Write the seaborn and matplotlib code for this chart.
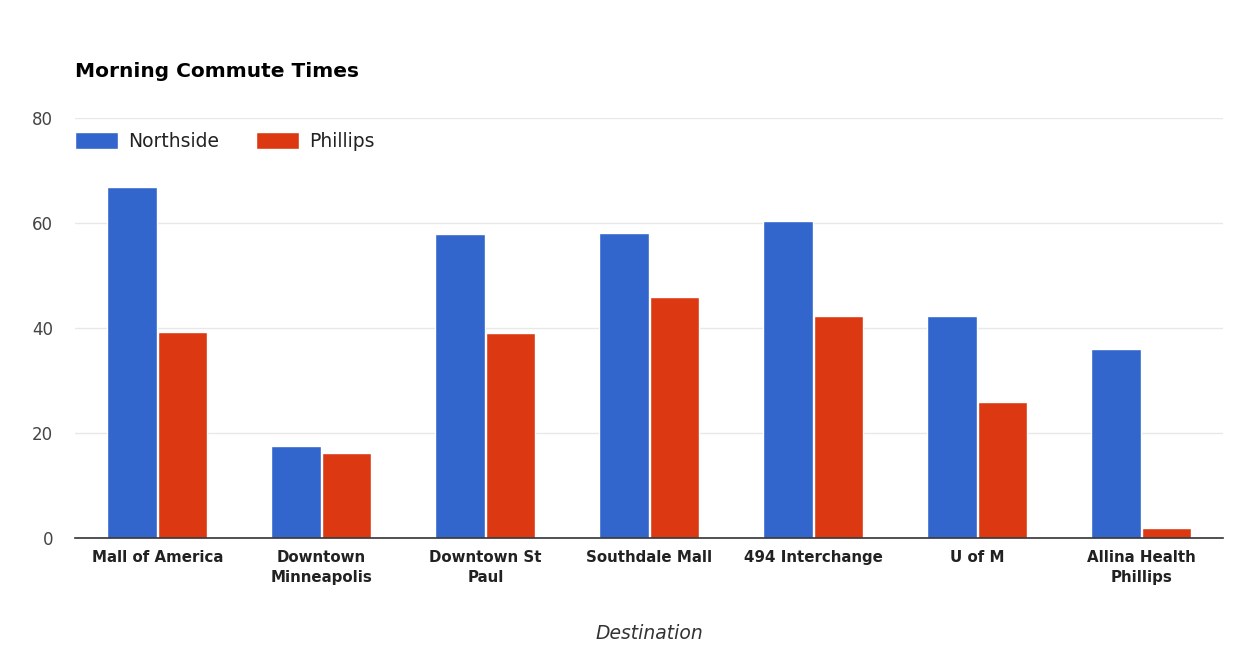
import matplotlib
matplotlib.use("Agg")
import matplotlib.pyplot as plt
import seaborn as sns
import pandas as pd

destinations = ["Mall of America", "Downtown\nMinneapolis", "Downtown St\nPaul",
                "Southdale Mall", "494 Interchange", "U of M", "Allina Health\nPhillips"]
northside = [66.8, 17.6, 57.9, 58.1, 60.4, 42.3, 36.0]
phillips = [39.3, 16.2, 39.0, 45.9, 42.3, 25.9, 1.8]
series_names = ["Northside", "Phillips"]
yticks = [0, 20, 40, 60, 80]

df = pd.DataFrame({
    "Destination": destinations * 2,
    "Time": northside + phillips,
    "Series": [series_names[0]] * len(destinations) + [series_names[1]] * len(destinations),
})

sns.set_theme(style="white")
plt.rcParams["font.family"] = ["DejaVu Sans"]

fig = plt.figure(figsize=(12.56, 6.45), dpi=100)
ax = fig.add_axes([0.06, 0.166, 0.914, 0.651])

sns.barplot(data=df, x="Destination", y="Time", hue="Series",
            palette=["#3366CC", "#DC3912"], width=0.62, gap=0.03,
            saturation=1, ax=ax, legend=True)

ax.set_ylim(0, 80)
ax.set_yticks(yticks)
ax.set_yticklabels([str(v) for v in yticks], color="#444444", fontsize=12)
ax.grid(axis="y", color="#e8e8e8", linewidth=1)
ax.set_axisbelow(True)
for s in ["top", "right", "left"]:
    ax.spines[s].set_visible(False)
ax.spines["bottom"].set_color("#333333")
ax.spines["bottom"].set_linewidth(1.2)
ax.tick_params(axis="y", length=0, pad=16)
ax.tick_params(axis="x", length=0, pad=9)
for lbl in ax.get_xticklabels():
    lbl.set_fontweight("bold")
    lbl.set_fontsize(10.8)
    lbl.set_color("#222222")
    lbl.set_linespacing(1.35)
ax.set_xlim(-0.5, len(destinations) - 0.5)
ax.set_ylabel("")
ax.set_xlabel("Destination", fontstyle="italic", fontsize=13.5, color="#333333", labelpad=28)

leg = ax.legend(loc="upper left", bbox_to_anchor=(0.0, 0.966), ncol=2, frameon=False,
                fontsize=13.5, handlelength=2.25, handleheight=1.0, columnspacing=2.0,
                borderaxespad=0, borderpad=0, handletextpad=0.55)
for t in leg.get_texts():
    t.set_color("#222222")

fig.text(0.06, 0.889, "Morning Commute Times", fontsize=14.5, fontweight="bold",
         color="#000000", ha="left", va="center")

fig.savefig("out.png", dpi=100, facecolor="white")
